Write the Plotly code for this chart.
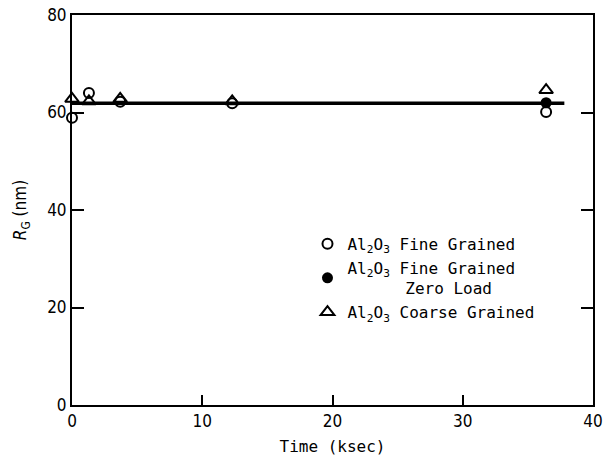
import plotly.graph_objects as go

# Data
fine_x = [0.0, 1.3, 3.7, 12.3, 36.4]
fine_y = [58.9, 64.0, 62.2, 61.9, 60.1]
zero_x = [36.4]
zero_y = [62.0]
coarse_x = [0.0, 1.3, 3.7, 12.3, 36.4]
coarse_y = [62.8, 62.3, 62.8, 62.3, 64.6]
fit_x = [0.0, 37.8]
fit_y = [61.9, 61.9]

x_ticks = [0, 10, 20, 30, 40]
y_ticks = [0, 20, 40, 60, 80]

MONO = "DejaVu Sans Mono, Liberation Mono, monospace"
NARROW = "Liberation Sans Narrow, DejaVu Sans Condensed, Arial Narrow, sans-serif"

fig = go.Figure()
fig.add_trace(go.Scatter(x=fit_x, y=fit_y, mode="lines",
                         line=dict(color="black", width=3.5), showlegend=False,
                         cliponaxis=False))
fig.add_trace(go.Scatter(x=fine_x, y=fine_y, mode="markers",
                         name="Al<sub>2</sub>O<sub>3</sub> Fine Grained",
                         marker=dict(symbol="circle-open", size=10, color="black",
                                     line=dict(width=2, color="black")),
                         cliponaxis=False))
fig.add_trace(go.Scatter(x=zero_x, y=zero_y, mode="markers",
                         name="Al<sub>2</sub>O<sub>3</sub> Fine Grained<br>      Zero Load",
                         marker=dict(symbol="circle", size=11, color="black"),
                         cliponaxis=False))
fig.add_trace(go.Scatter(x=coarse_x, y=coarse_y, mode="markers",
                         name="Al<sub>2</sub>O<sub>3</sub> Coarse Grained",
                         marker=dict(symbol="triangle-up-open", size=12, color="black",
                                     line=dict(width=2, color="black")),
                         cliponaxis=False))

fig.update_layout(
    width=605, height=460,
    margin=dict(l=72, r=2, t=15, b=55),
    paper_bgcolor="white", plot_bgcolor="white",
    font=dict(family=NARROW, size=16, color="black"),
    legend=dict(x=0.452, y=0.457, xanchor="left", yanchor="top",
                font=dict(family=MONO, size=16, color="black"),
                bgcolor="rgba(0,0,0,0)", tracegroupgap=0, itemwidth=30),
    xaxis=dict(range=[0, 40], tickvals=x_ticks, ticktext=[str(v) for v in x_ticks],
               ticks="inside", ticklen=10, tickwidth=1.5, tickcolor="black",
               showline=True, linewidth=2, linecolor="black", mirror=True,
               showgrid=False, zeroline=False, ticklabeloverflow="allow",
               title=dict(text="Time (ksec)", font=dict(family=MONO, size=16), standoff=10),
               tickfont=dict(family=NARROW, size=17)),
    yaxis=dict(range=[0, 80], tickvals=y_ticks, ticktext=[str(v) for v in y_ticks],
               ticks="inside", ticklen=12, tickwidth=1.5, tickcolor="black",
               showline=True, linewidth=2, linecolor="black", mirror="allticks",
               showgrid=False, zeroline=False, ticklabeloverflow="allow",
               title=dict(text="<i>R</i><sub>G</sub> (nm)", font=dict(family=NARROW, size=17), standoff=16),
               tickfont=dict(family=NARROW, size=17)),
)

fig.write_html("out.html")
